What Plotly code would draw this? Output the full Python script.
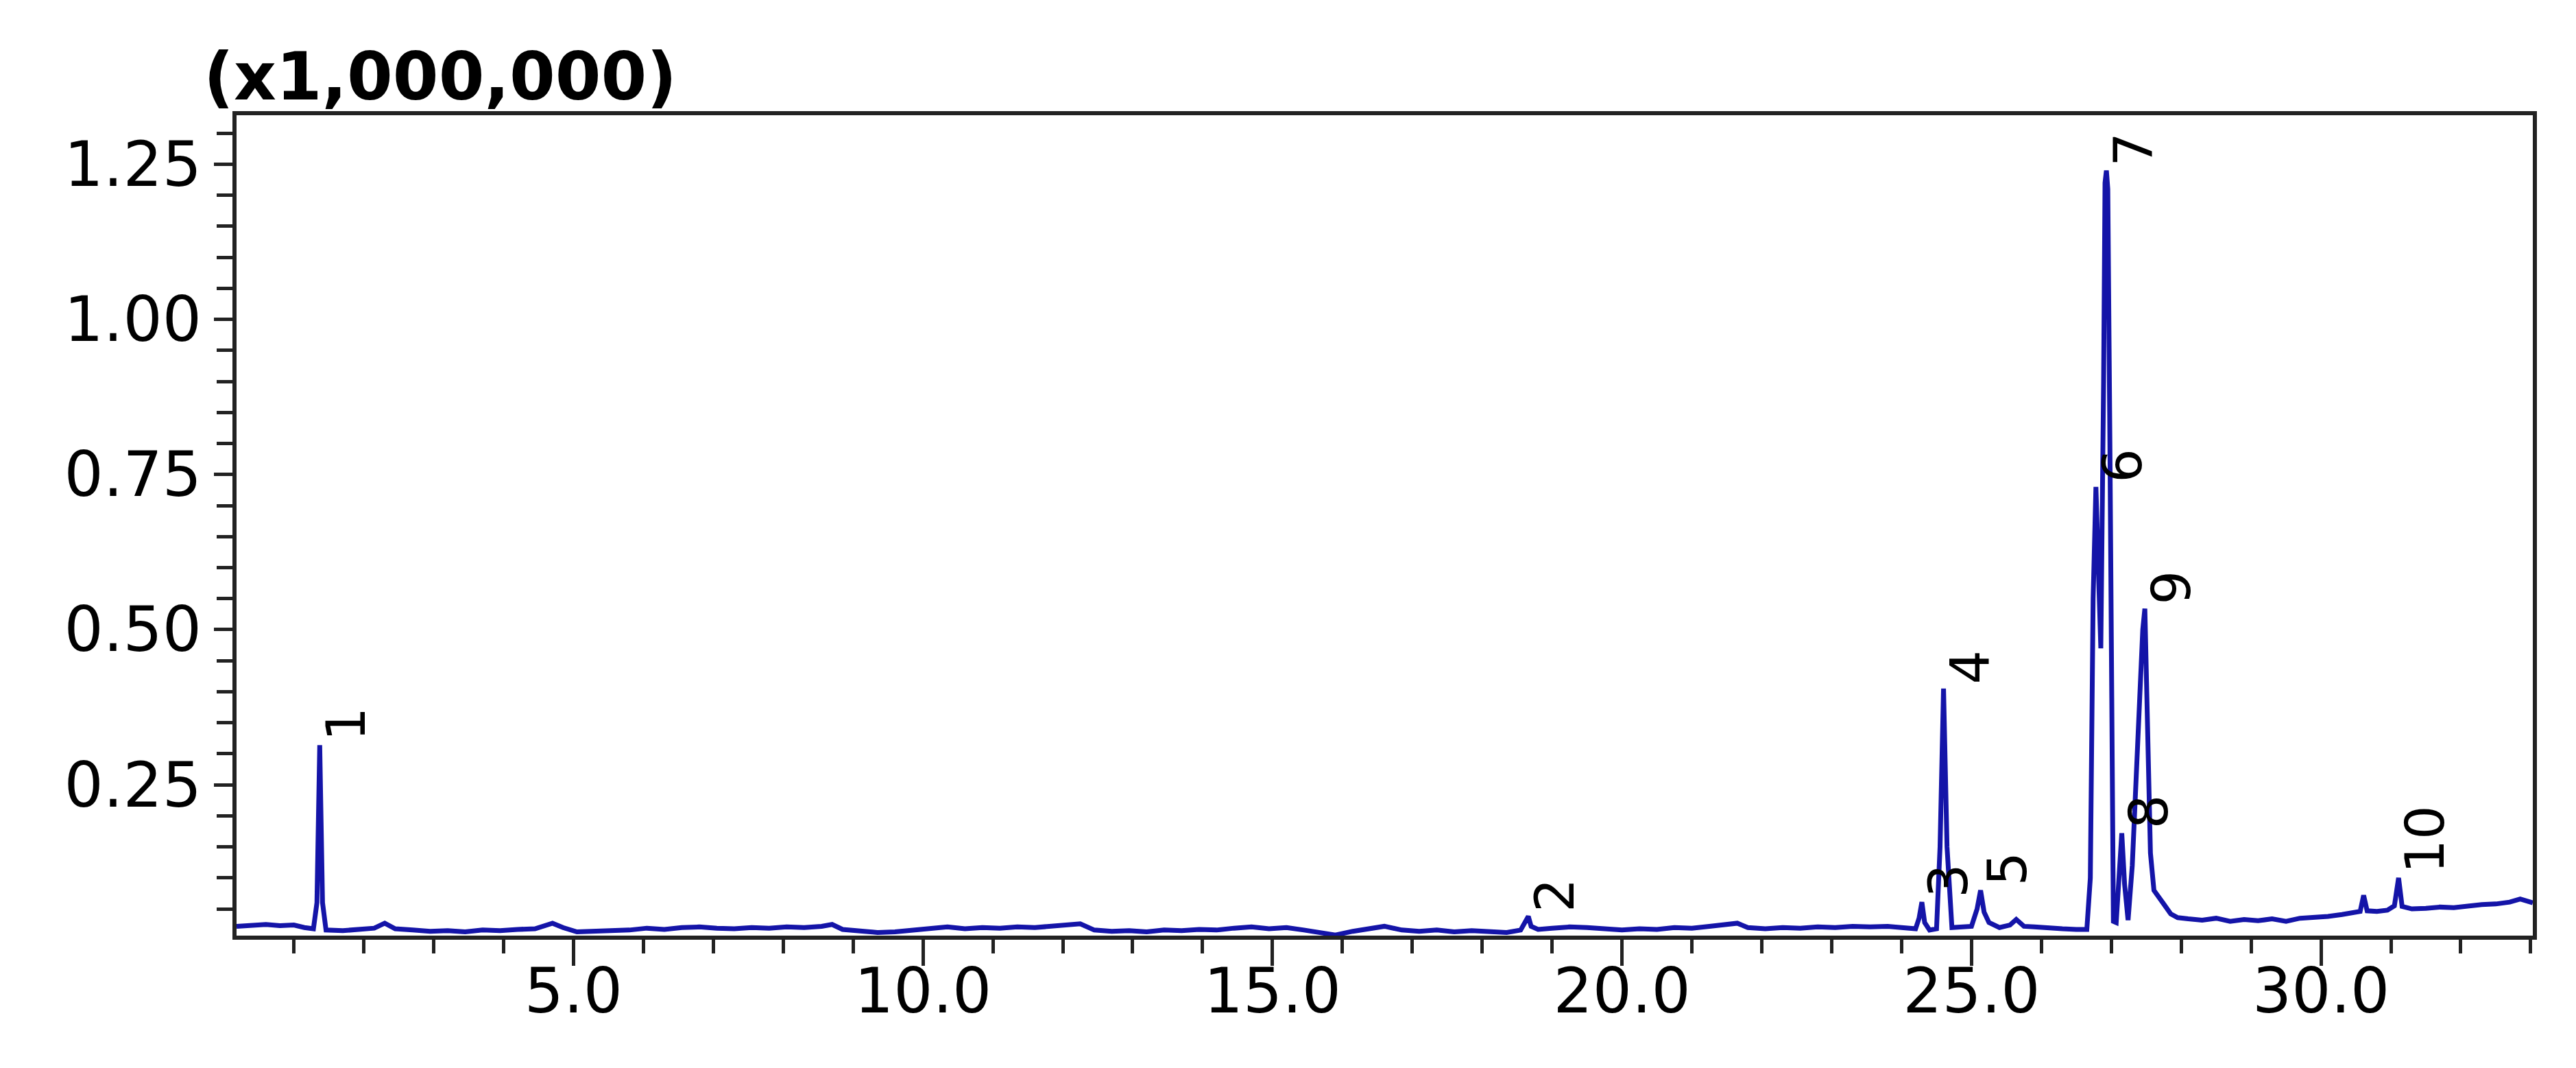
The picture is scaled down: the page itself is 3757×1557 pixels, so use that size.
#!/usr/bin/env python3
"""GC 크로마토그램 (x1,000,000) 재현"""

import plotly.graph_objects as go

# 측정 데이터 (분, x1,000,000 counts) - 그림에서 읽은 값
times = [
    0.18, 0.4, 0.6, 0.8, 1.0, 1.15, 1.28, 1.33, 1.37, 1.41, 1.46, 1.7, 1.95, 2.15, 2.3, 2.45,
    2.7, 2.95, 3.2, 3.45, 3.7, 3.95, 4.2, 4.45, 4.7, 4.85, 5.05, 5.3, 5.55, 5.8, 6.05, 6.3,
    6.55, 6.8, 7.05, 7.3, 7.55, 7.8, 8.05, 8.3, 8.55, 8.7, 8.85, 9.1, 9.35, 9.6, 9.85, 10.1,
    10.35, 10.6, 10.85, 11.1, 11.35, 11.6, 11.85, 12.1, 12.25, 12.45, 12.7, 12.95, 13.2, 13.45,
    13.7, 13.95, 14.2, 14.45, 14.7, 14.95, 15.2, 15.45, 15.7, 15.9, 16.15, 16.4, 16.6, 16.85,
    17.1, 17.35, 17.6, 17.85, 18.1, 18.35, 18.55, 18.62, 18.66, 18.7, 18.8, 19.0, 19.25, 19.5,
    19.75, 20.0, 20.25, 20.5, 20.75, 21.0, 21.25, 21.5, 21.65, 21.8, 22.05, 22.3, 22.55, 22.8,
    23.05, 23.3, 23.55, 23.8, 24.05, 24.2, 24.25, 24.29, 24.33, 24.4, 24.5, 24.55, 24.6, 24.65,
    24.72, 24.85, 25.0, 25.08, 25.13, 25.18, 25.25, 25.4, 25.55, 25.64, 25.75, 25.9, 26.1, 26.3,
    26.5, 26.65, 26.7, 26.74, 26.78, 26.81, 26.85, 26.89, 26.91, 26.93, 26.95, 26.98, 27.01,
    27.03, 27.07, 27.11, 27.15, 27.19, 27.24, 27.3, 27.38, 27.45, 27.48, 27.52, 27.56, 27.61,
    27.68, 27.75, 27.85, 27.95, 28.1, 28.3, 28.5, 28.7, 28.9, 29.1, 29.3, 29.5, 29.7, 29.9,
    30.1, 30.3, 30.5, 30.56, 30.61, 30.66, 30.8, 30.95, 31.05, 31.11, 31.16, 31.3, 31.5, 31.7,
    31.9, 32.1, 32.3, 32.5, 32.7, 32.85, 32.95, 33.03,
]
intensity = [
    0.022, 0.024, 0.025, 0.023, 0.024, 0.020, 0.018, 0.060, 0.314, 0.060, 0.016, 0.015, 0.017,
    0.019, 0.027, 0.018, 0.016, 0.014, 0.015, 0.013, 0.016, 0.015, 0.017, 0.018, 0.027, 0.020,
    0.013, 0.014, 0.015, 0.016, 0.019, 0.017, 0.020, 0.021, 0.019, 0.018, 0.020, 0.019, 0.021,
    0.020, 0.022, 0.025, 0.017, 0.014, 0.012, 0.013, 0.016, 0.019, 0.021, 0.018, 0.020, 0.019,
    0.021, 0.020, 0.022, 0.023, 0.026, 0.016, 0.014, 0.015, 0.013, 0.016, 0.015, 0.017, 0.016,
    0.019, 0.021, 0.018, 0.020, 0.016, 0.012, 0.008, 0.014, 0.018, 0.022, 0.016, 0.014, 0.016,
    0.013, 0.015, 0.014, 0.012, 0.016, 0.028, 0.038, 0.022, 0.017, 0.019, 0.021, 0.020, 0.018,
    0.016, 0.018, 0.017, 0.020, 0.019, 0.022, 0.024, 0.027, 0.020, 0.018, 0.020, 0.019, 0.021,
    0.020, 0.022, 0.021, 0.022, 0.020, 0.018, 0.035, 0.061, 0.028, 0.016, 0.018, 0.150, 0.405,
    0.150, 0.020, 0.021, 0.022, 0.050, 0.080, 0.045, 0.028, 0.020, 0.024, 0.033, 0.022, 0.021,
    0.019, 0.018, 0.017, 0.017, 0.100, 0.550, 0.730, 0.620, 0.470, 0.900, 1.220, 1.240, 1.210,
    0.800, 0.200, 0.030, 0.028, 0.100, 0.172, 0.090, 0.032, 0.120, 0.330, 0.500, 0.534, 0.350,
    0.140, 0.080, 0.070, 0.058, 0.042, 0.036, 0.034, 0.032, 0.035, 0.030, 0.033, 0.031, 0.034,
    0.030, 0.035, 0.036, 0.038, 0.041, 0.044, 0.046, 0.072, 0.047, 0.046, 0.048, 0.055, 0.100,
    0.054, 0.050, 0.051, 0.053, 0.052, 0.055, 0.057, 0.058, 0.061, 0.066, 0.063, 0.060,
]

# 피크 번호와 정점 위치
peak_labels = ["1", "2", "3", "4", "5", "6", "7", "8", "9", "10"]
peak_times = [1.37, 18.66, 24.29, 24.60, 25.13, 26.78, 26.93, 27.15, 27.48, 31.11]
peak_heights = [0.314, 0.038, 0.061, 0.405, 0.080, 0.730, 1.240, 0.172, 0.534, 0.100]

FONT = "DejaVu Sans"
AXIS_COLOR = "#222222"

fig = go.Figure()

fig.add_trace(go.Scatter(
    x=times,
    y=intensity,
    mode='lines',
    line=dict(color='#1414a8', width=7),
    hoverinfo='skip',
))

# 피크 번호 (세로 회전 텍스트)
for label, t, h in zip(peak_labels, peak_times, peak_heights):
    fig.add_annotation(
        x=t, y=h, text=label, showarrow=False,
        textangle=-90, xanchor='left', yanchor='bottom',
        xshift=-8, yshift=4,
        font=dict(family=FONT, size=78, color='black'),
    )

# 세로축 배율 표기
fig.add_annotation(
    x=0, y=1, xref='paper', yref='paper', xshift=-50, yshift=-2,
    text="<b>(x1,000,000)</b>", showarrow=False,
    xanchor='left', yanchor='bottom',
    font=dict(family=FONT, size=96, color='black'),
)

fig.update_layout(
    width=3757,
    height=1557,
    margin=dict(l=337, r=71, t=160, b=201),
    plot_bgcolor='white',
    paper_bgcolor='white',
    showlegend=False,
    font=dict(family=FONT, size=90, color='black'),
    xaxis=dict(
        range=[0.18, 33.03],
        tick0=0, dtick=5, tickformat='.1f',
        ticks='outside', ticklen=38, tickwidth=5, tickcolor=AXIS_COLOR,
        ticklabelstandoff=-40,
        minor=dict(dtick=1, tick0=0, ticks='outside', ticklen=20,
                   tickwidth=5, tickcolor=AXIS_COLOR),
        showline=True, linecolor=AXIS_COLOR, linewidth=6, mirror=True,
        showgrid=False, zeroline=False,
    ),
    yaxis=dict(
        range=[0.007, 1.329],
        tick0=0, dtick=0.25, tickformat='.2f',
        ticks='outside', ticklen=27, tickwidth=5, tickcolor=AXIS_COLOR,
        minor=dict(dtick=0.05, tick0=0, ticks='outside', ticklen=23,
                   tickwidth=5, tickcolor=AXIS_COLOR),
        showline=True, linecolor=AXIS_COLOR, linewidth=6, mirror=True,
        showgrid=False, zeroline=False,
    ),
)

fig.write_html("out.html")
